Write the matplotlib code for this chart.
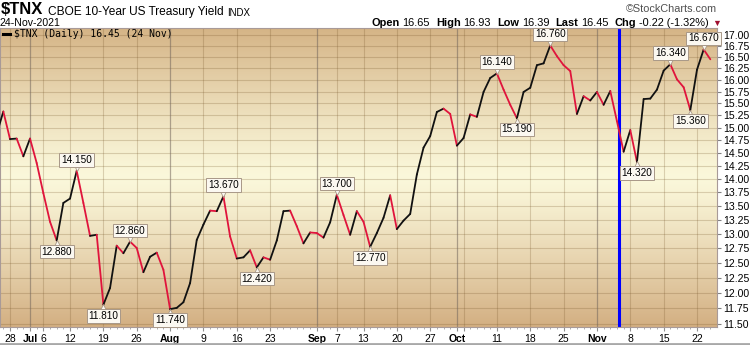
import numpy as np
import pandas as pd
import matplotlib
matplotlib.use('Agg')
import matplotlib.pyplot as plt
from matplotlib.collections import LineCollection
from matplotlib.lines import Line2D
from matplotlib.text import Annotation
from matplotlib.transforms import offset_copy
from matplotlib.ticker import FixedLocator, FixedFormatter, NullLocator

# ---- data -------------------------------------------------------------
holidays = ['2021-07-05', '2021-09-06']
first_day, last_day = '2021-06-24', '2021-11-24'

# daily closes of $TNX, one per trading day from 24-Jun to 24-Nov-2021
closes = [14.87, 15.33, 14.77, 14.78, 14.43, 14.78, 14.30, 13.73, 13.21, 12.88,
          13.55, 13.63, 14.15, 13.55, 12.96, 12.98, 11.81, 12.08, 12.79, 12.66,
          12.86, 12.75, 12.34, 12.60, 12.67, 12.38, 11.74, 11.76, 11.85, 12.16,
          12.89, 13.16, 13.41, 13.40, 13.67, 12.95, 12.57, 12.59, 12.71, 12.42,
          12.59, 12.55, 12.88, 13.40, 13.41, 13.13, 12.83, 13.02, 13.01, 12.93,
          13.20, 13.70, 13.33, 12.98, 13.40, 13.21, 12.77, 13.01, 13.28, 13.69,
          13.08, 13.23, 13.35, 14.08, 14.60, 14.83, 15.32, 15.39, 15.28, 14.64,
          14.79, 15.27, 15.22, 15.74, 16.04, 16.14, 15.79, 15.47, 15.19, 15.74,
          15.83, 16.32, 16.36, 16.76, 16.52, 16.32, 16.19, 15.28, 15.65, 15.56,
          15.74, 15.47, 15.76, 15.13, 14.52, 14.95, 14.32, 15.59, 15.60, 15.79,
          16.20, 16.34, 16.01, 15.84, 15.36, 16.22, 16.67, 16.45]

# swing points that carry a value box
label_dates = ['2021-07-08', '2021-07-13', '2021-07-19', '2021-07-23', '2021-08-02',
               '2021-08-12', '2021-08-19', '2021-09-07', '2021-09-14', '2021-10-11',
               '2021-10-14', '2021-10-21', '2021-11-09', '2021-11-16', '2021-11-19',
               '2021-11-23']

week_dates = ['2021-06-28', '2021-07-06', '2021-07-12', '2021-07-19', '2021-07-26',
              '2021-08-09', '2021-08-16', '2021-08-23', '2021-09-07', '2021-09-13',
              '2021-09-20', '2021-09-27', '2021-10-04', '2021-10-11', '2021-10-18',
              '2021-10-25', '2021-11-08', '2021-11-15', '2021-11-22']
week_labels = ['28', '6', '12', '19', '26', '9', '16', '23', '7', '13', '20', '27', '',
               '11', '18', '25', '8', '15', '22']
month_dates = ['2021-07-01', '2021-08-02', '2021-09-01', '2021-10-01', '2021-11-01']
month_labels = ['Jul', 'Aug', 'Sep', 'Oct', 'Nov']
event_date = '2021-11-04'

ytick_values = [11.50 + 0.25 * k for k in range(23)]

title_sym = '\\$TNX'
title_name = 'CBOE 10-Year US Treasury Yield'
title_exch = 'INDX'
quote_date = '24-Nov-2021'
quote_names = ['Open', 'High', 'Low', 'Last', 'Chg']
quote_values = ['16.65', '16.93', '16.39', '16.45', '-0.22 (-1.32%)']
legend_text = '\\$TNX (Daily) 16.45 (24 Nov)'

# ---- layout -------------------------------------------------------------
W, H = 750, 345
fig = plt.figure(figsize=(W / 100, H / 100), dpi=100)
fig.patch.set_facecolor('white')

def fx(x):
    return x / W

def fy(y):
    return 1 - y / H

pl, pr, pt, pb = 0, 717, 28, 327
pos = [fx(pl), fy(pb), (pr - pl) / W, (pb - pt) / H]

dates = pd.bdate_range(first_day, last_day)
dates = dates[~dates.isin(pd.to_datetime(holidays))]
idx = {d.strftime('%Y-%m-%d'): k for k, d in enumerate(dates)}
xs = np.arange(len(dates))
ys = np.array(closes)

# background gradient
bg = fig.add_axes(pos, zorder=0)
t = np.linspace(0, 1, 300)
dark_top = np.array([213, 180, 134]) / 255
light = np.array([251, 248, 219]) / 255
dark_bot = np.array([211, 175, 130]) / 255
mid = 0.5
grad = np.zeros((len(t), 1, 3))
for k, tt in enumerate(t):
    if tt < mid:
        w = ((mid - tt) / mid) ** 1.2
        grad[k, 0] = light + (dark_top - light) * w
    else:
        w = ((tt - mid) / (1 - mid)) ** 1.2
        grad[k, 0] = light + (dark_bot - light) * w
bg.imshow(grad, aspect='auto', extent=[0, 1, 0, 1], origin='upper')
bg.set_axis_off()

ax = fig.add_axes(pos, zorder=1)
ax.set_facecolor('none')
ax.set_yscale('log')
ax.set_xlim(0.5, 108.0)
ax.set_ylim(11.46, 17.16)

# grid
grid_c = (0.45, 0.32, 0.15, 0.24)
for v in ytick_values:
    ax.axhline(v, color=grid_c, lw=0.8, zorder=1)
for d in week_dates:
    ax.axvline(idx[d], color=grid_c, lw=0.8, zorder=1)
for d in month_dates:
    ax.axvline(idx[d], color=(0.45, 0.40, 0.36, 0.55), lw=0.9, zorder=1)

# event marker
ax.axvline(idx[event_date] + 0.25, color='#0000ff', lw=2.2, zorder=2)

# price line, red on down days, black on up days
pts = np.column_stack([xs, ys])
segs = np.stack([pts[:-1], pts[1:]], axis=1)
cols = ['#e0143c' if b < a else '#111111' for a, b in zip(ys[:-1], ys[1:])]
lc = LineCollection(segs, colors=cols, linewidths=1.3, zorder=3, capstyle='round', joinstyle='round')
ax.add_collection(lc)

# value boxes at swing points
box_fc, box_ec = '#fbf8f1', '#a89888'
narrow = ['Liberation Sans Narrow', 'Liberation Sans', 'DejaVu Sans']
for d in label_dates:
    p = idx[d]
    v = closes[p]
    peak = v >= closes[p - 1]
    off = 8.0 if peak else -8.0
    tri = offset_copy(ax.transData, fig=fig, x=0, y=4.5 if peak else -4.5, units='dots')
    ax.plot(p, v, marker='v' if peak else '^', ms=6.5, mfc=box_fc, mec=box_ec, mew=0.6,
            transform=tri, zorder=4, clip_on=False)
    ax.annotate(f'{v:.3f}', (p, v), xytext=(0, off), textcoords='offset points',
                ha='center', va='center', fontsize=7.2, family=narrow, color='black',
                bbox=dict(boxstyle='square,pad=0.18', fc=box_fc, ec=box_ec, lw=0.7), zorder=5)

# axes ticks
ax.yaxis.tick_right()
ax.yaxis.set_major_locator(FixedLocator(ytick_values))
ax.yaxis.set_major_formatter(FixedFormatter([f'{v:.2f}' for v in ytick_values]))
ax.yaxis.set_minor_locator(NullLocator())
ax.tick_params(axis='y', which='major', direction='out', length=3, width=0.8, color='#808080',
               pad=1.5, labelsize=7.6)
for lab in ax.get_yticklabels():
    lab.set_family(['Liberation Sans', 'DejaVu Sans'])

xt = [idx[d] for d in week_dates] + [idx[d] for d in month_dates]
xl = week_labels + month_labels
ax.xaxis.set_major_locator(FixedLocator(xt))
ax.xaxis.set_major_formatter(FixedFormatter(xl))
ax.xaxis.set_minor_locator(FixedLocator(xs))
ax.tick_params(axis='x', which='major', direction='out', length=3, width=0.8, color='#909090',
               pad=2, labelsize=7.5)
ax.tick_params(axis='x', which='minor', direction='out', length=1.5, width=0.6, color='#a0a0a0')
month_set = set(month_labels)
for lab in ax.get_xticklabels():
    lab.set_family(narrow)
    if lab.get_text() in month_set:
        lab.set_fontweight('bold')

for s in ax.spines.values():
    s.set_color('#a89a98')
    s.set_linewidth(0.8)

# ---- header ---------------------------------------------------------------
sans = ['Liberation Sans', 'DejaVu Sans']

def chain(prev, s, gap=2.5, **kw):
    a = Annotation(s, xy=(1, 0), xycoords=prev, xytext=(gap, 0), textcoords='offset points',
                   ha='left', va='bottom', family=sans, **kw)
    fig.add_artist(a)
    return a

t0 = fig.text(fx(1), fy(17.5), title_sym, fontsize=12, weight='bold', family=sans, va='bottom')
t1 = chain(t0, title_name, gap=3, fontsize=8.6)
chain(t1, title_exch, gap=3, fontsize=7)

fig.text(fx(0), fy(27.5), quote_date, fontsize=7.6, family=sans, va='bottom')

qs = 7.9
prev = fig.text(fx(371), fy(28), quote_names[0], fontsize=qs, weight='bold', family=sans,
                va='bottom')
prev = chain(prev, quote_values[0], gap=2, fontsize=qs)
for nm, vl in zip(quote_names[1:], quote_values[1:]):
    prev = chain(prev, nm, gap=4.5, fontsize=qs, weight='bold')
    prev = chain(prev, vl, gap=2, fontsize=qs)
chain(prev, '\u25bc', gap=2, fontsize=6.5, color='#a01030')

fig.text(fx(717), fy(14), '\u00a9StockCharts.com', fontsize=7.8, family=sans, color='#505050',
         ha='right', va='bottom')

# legend inside the plot
fig.add_artist(Line2D([fx(3), fx(10)], [fy(34), fy(34)], color='black', lw=2.2))
fig.text(fx(14), fy(34), legend_text, fontsize=7, family='DejaVu Sans Mono', va='center')

# bottom separator
fig.add_artist(Line2D([0, 1], [fy(344), fy(344)], color='#a8a8a8', lw=2))

fig.savefig('out.png', dpi=100)
